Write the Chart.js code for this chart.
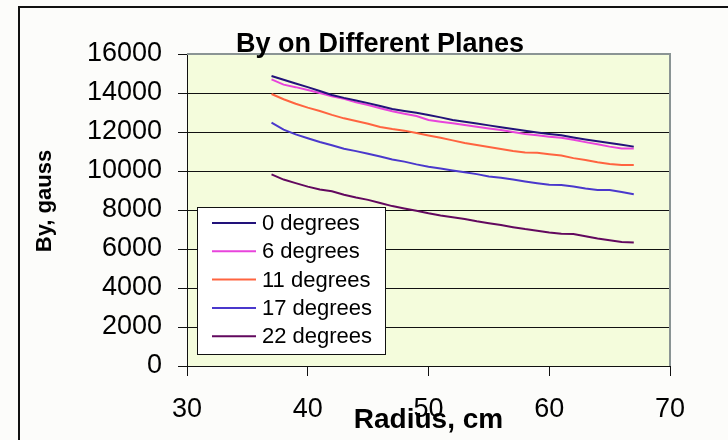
<!DOCTYPE html>
<html>
<head>
<meta charset="utf-8">
<script src="https://cdn.jsdelivr.net/npm/chart.js@4.4.0/dist/chart.umd.min.js"></script>
<style>
  body { margin: 0; background: #fcfcfa; }
  #myChart { display: block; }
</style>
</head>
<body>
<canvas id="myChart" width="728" height="440"></canvas>
<script>
var radius = [37, 38, 39, 40, 41, 42, 43, 44, 45, 46, 47, 48, 49, 50, 51, 52,
	53, 54, 55, 56, 57, 58, 59, 60, 61, 62, 63, 64, 65, 66, 67];

var deg0 = [14870, 14680, 14490, 14300, 14100, 13900, 13750, 13620, 13480, 13330,
	13180, 13080, 12990, 12870, 12750, 12620, 12530, 12440, 12340, 12240, 12150,
	12060, 11980, 11900, 11830, 11720, 11620, 11530, 11440, 11350, 11250];
var deg6 = [14700, 14430, 14300, 14150, 14000, 13830, 13700, 13520, 13380, 13220,
	13060, 12940, 12820, 12620, 12530, 12450, 12360, 12270, 12180, 12100, 12000,
	11900, 11830, 11760, 11700, 11600, 11480, 11370, 11250, 11150, 11160];
var deg11 = [13950, 13680, 13450, 13250, 13080, 12880, 12700, 12560, 12420, 12260,
	12150, 12070, 11950, 11820, 11700, 11570, 11440, 11330, 11230, 11130, 11030,
	10950, 10930, 10860, 10790, 10660, 10560, 10450, 10360, 10310, 10310];
var deg17 = [12480, 12120, 11880, 11680, 11490, 11320, 11140, 11020, 10880, 10740,
	10590, 10480, 10340, 10220, 10130, 10030, 9940, 9840, 9720, 9650, 9560,
	9460, 9370, 9290, 9280, 9210, 9100, 9030, 9020, 8920, 8810];
var deg22 = [9830, 9560, 9380, 9200, 9050, 8960, 8780, 8640, 8520, 8360,
	8200, 8080, 7960, 7830, 7720, 7630, 7540, 7420, 7320, 7230, 7120,
	7020, 6940, 6850, 6780, 6770, 6650, 6540, 6450, 6360, 6330];

var seriesNames = ["0 degrees", "6 degrees", "11 degrees", "17 degrees", "22 degrees"];
var seriesColors = ["#22127a", "#e844dc", "#ff6440", "#4a38cc", "#62085e"];
var seriesValues = [deg0, deg6, deg11, deg17, deg22];

var chartTitle = "By on Different Planes";
var xTitle = "Radius, cm";
var yTitle = "By, gauss";

function points(vals) {
	var out = [];
	for (var i = 0; i < vals.length; i++) {
		out.push({ x: radius[i], y: vals[i] });
	}
	return out;
}

var datasets = [];
for (var s = 0; s < seriesNames.length; s++) {
	datasets.push({
		label: seriesNames[s],
		data: points(seriesValues[s]),
		borderColor: seriesColors[s],
		backgroundColor: seriesColors[s],
		borderWidth: 2,
		pointRadius: 0,
		fill: false,
		tension: 0
	});
}

var FONT = "'Liberation Sans', Arial, sans-serif";

// plot background, frame, titles and legend box
var decor = {
	id: "decor",
	beforeDraw: function(chart) {
		var c = chart.ctx;
		var a = chart.chartArea;
		c.save();
		c.fillStyle = "#fcfcfa";
		c.fillRect(0, 0, chart.width, chart.height);
		c.strokeStyle = "#111";
		c.lineWidth = 2;
		c.strokeRect(19, 7, 760, 480);
		c.fillStyle = "#f4fcdc";
		c.fillRect(a.left, a.top, a.right - a.left, a.bottom - a.top);
		c.restore();
	},
	afterDraw: function(chart) {
		var c = chart.ctx;
		var a = chart.chartArea;
		c.save();
		// gray frame top and right
		c.strokeStyle = "#8a9494";
		c.lineWidth = 2;
		c.beginPath();
		c.moveTo(a.left, a.top);
		c.lineTo(a.right, a.top);
		c.lineTo(a.right, a.bottom);
		c.stroke();

		c.fillStyle = "#000";
		c.font = "bold 27px " + FONT;
		c.textAlign = "center";
		c.textBaseline = "alphabetic";
		c.fillText(chartTitle, 380, 52);

		c.font = "bold 28px " + FONT;
		c.textBaseline = "middle";
		c.fillText(xTitle, (a.left + a.right) / 2, 420);

		c.translate(45, 201);
		c.rotate(-Math.PI / 2);
		c.font = "bold 22px " + FONT;
		c.fillText(yTitle, 0, 0);
		c.restore();

		// legend
		c.save();
		c.fillStyle = "#fff";
		c.fillRect(197, 207, 188, 147);
		c.strokeStyle = "#111";
		c.lineWidth = 1;
		c.strokeRect(197.5, 207.5, 188, 147);
		c.font = "22px " + FONT;
		c.textAlign = "left";
		c.textBaseline = "middle";
		for (var i = 0; i < chart.data.datasets.length; i++) {
			var ds = chart.data.datasets[i];
			var y = 223 + i * 28.3;
			c.strokeStyle = ds.borderColor;
			c.lineWidth = 2;
			c.beginPath();
			c.moveTo(212, y);
			c.lineTo(256, y);
			c.stroke();
			c.fillStyle = "#000";
			c.fillText(ds.label, 262, y + 1);
		}
		c.restore();
	}
};

var ctx = document.getElementById("myChart");

var myChart = new Chart(ctx, {
	type: "line",
	data: { datasets: datasets },
	plugins: [decor],
	options: {
		responsive: false,
		animation: false,
		devicePixelRatio: 1,
		layout: { padding: { left: 0, top: 54, right: 58, bottom: 0 } },
		plugins: {
			legend: { display: false },
			title: { display: false },
			tooltip: { enabled: false }
		},
		scales: {
			x: {
				type: "linear",
				min: 30,
				max: 70,
				afterFit: function(scale) { scale.height = 74; },
				ticks: {
					stepSize: 10,
					color: "#000",
					padding: 17,
					font: { family: FONT, size: 27 },
					callback: function(v) { return String(v); }
				},
				grid: {
					drawOnChartArea: false,
					drawTicks: true,
					tickLength: 10,
					color: "#111"
				},
				border: { color: "#111", width: 1 }
			},
			y: {
				min: 0,
				max: 16000,
				afterFit: function(scale) { scale.width = 187; },
				ticks: {
					stepSize: 2000,
					color: "#000",
					padding: 16,
					font: { family: FONT, size: 27 },
					callback: function(v) { return String(v); }
				},
				grid: {
					color: "#111",
					lineWidth: 1,
					tickLength: 9
				},
				border: { color: "#111", width: 1 }
			}
		}
	}
});
</script>
</body>
</html>
